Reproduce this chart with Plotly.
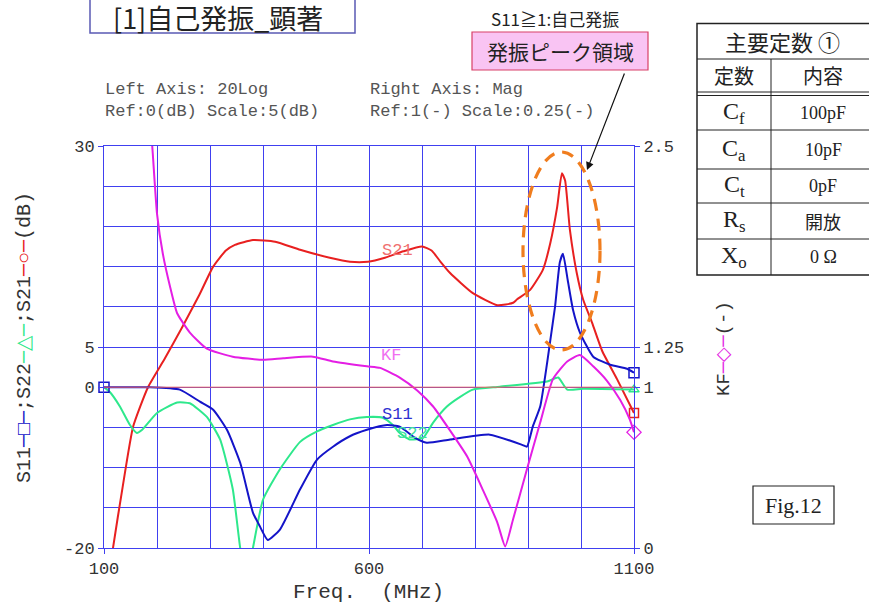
import plotly.graph_objects as go

# ---------------- data ----------------
s21_f = [110, 117, 135, 155, 183, 215, 247, 280, 306, 330, 347, 381, 423, 470, 526, 564, 598, 630, 665, 700, 718, 735, 753, 796, 842, 872, 879, 904, 928, 942, 955, 964, 970, 979, 992, 1004, 1021, 1040, 1068, 1100]
s21_db = [-24, -20, -12.5, -4.9, 0, 3.6, 7.4, 11.5, 15, 17, 17.7, 18.3, 18.1, 17.1, 16.1, 15.6, 15.6, 16.1, 16.9, 17.5, 17.0, 15.6, 14.2, 11.7, 10.2, 10.5, 10.9, 12.1, 14.6, 17.9, 22.4, 26.6, 25.7, 19.6, 14.2, 10.9, 8.0, 4.5, 1.0, -3.2]

s11_f = [100, 150, 187, 243, 281, 306, 332, 357, 381, 394, 409, 432, 470, 502, 532, 564, 596, 634, 658, 687, 709, 753, 828, 890, 898, 909, 923, 936, 942, 951, 960, 966, 975, 985, 998, 1023, 1055, 1087, 1100]
s11_db = [0, 0, 0, -0.3, -1.8, -2.8, -5.3, -9.4, -15.6, -17.3, -19, -17.7, -12.7, -9, -7.4, -6.1, -5.3, -4.7, -4.9, -6.3, -6.9, -6.5, -5.9, -7.2, -7.4, -4.9, -2.4, 3, 5.8, 10, 15.5, 16.6, 13.3, 9.6, 6.8, 3.8, 2.8, 2.3, 1.8]

s22_f = [100, 111, 130, 149, 162, 172, 200, 238, 262, 294, 319, 343, 357, 369, 381, 400, 432, 470, 502, 532, 564, 596, 626, 645, 658, 677, 702, 721, 747, 772, 796, 847, 936, 957, 974, 1004, 1100]
s22_db = [0, -0.6, -2.4, -4.7, -5.7, -5.3, -3.2, -1.9, -2, -3.7, -6.5, -12.7, -20, -24, -20, -14, -10.2, -6.8, -5.5, -4.7, -4, -3.7, -3.8, -4.7, -5.7, -6.5, -6.3, -4.4, -2.4, -1.2, -0.3, 0.06, 0.7, 1.2, -0.3, -0.2, -0.3]

kf_f = [183, 191, 200, 211, 225, 238, 262, 294, 343, 400, 438, 494, 532, 596, 621, 658, 691, 721, 753, 785, 815, 842, 857, 872, 898, 923, 947, 974, 998, 1023, 1049, 1074, 1092, 1100]
kf_v = [2.8, 2.5, 2.08, 1.83, 1.62, 1.46, 1.34, 1.24, 1.19, 1.17, 1.18, 1.19, 1.16, 1.13, 1.12, 1.06, 0.98, 0.88, 0.73, 0.57, 0.36, 0.16, 0.01, 0.18, 0.49, 0.78, 1.05, 1.16, 1.20, 1.13, 1.04, 0.92, 0.80, 0.72]

x_range = [100, 1100]
y_range = [-20, 30]
y2_range = [0, 2.5]
x_ticks = [100, 600, 1100]
y_ticks = [-20, 0, 5, 30]
y_ticktext = ["-20", "0", "5", "30"]
y2_ticks = [0, 1, 1.25, 2.5]
y2_ticktext = ["0", "1", "1.25", "2.5"]

table_rows = [("C<sub>f</sub>", "100pF"), ("C<sub>a</sub>", "10pF"), ("C<sub>t</sub>", "0pF"),
              ("R<sub>s</sub>", "開放"), ("X<sub>o</sub>", "0 Ω")]

# ---------------- layout geometry ----------------
W, H = 869, 604
L, R, T, B = 104, 634, 146, 548


def px(x):
    return (x - L) / (R - L)


def py(y):
    return (B - y) / (B - T)


RED = "#e82020"
BLUE = "#1414c8"
GREEN = "#2ee88c"
MAG = "#e41ee4"
GRID = "#4040f0"
MONO = "Liberation Mono"
SERIF = "Liberation Serif"
CJK = "Noto Sans CJK JP"

fig = go.Figure()
lw = 2
fig.add_trace(go.Scatter(x=s21_f, y=s21_db, mode="lines", line=dict(color=RED, width=lw, shape="spline", smoothing=0.5)))
fig.add_trace(go.Scatter(x=s22_f, y=s22_db, mode="lines", line=dict(color=GREEN, width=lw, shape="spline", smoothing=0.5)))
fig.add_trace(go.Scatter(x=s11_f, y=s11_db, mode="lines", line=dict(color=BLUE, width=lw, shape="spline", smoothing=0.5)))
fig.add_trace(go.Scatter(x=kf_f, y=kf_v, yaxis="y2", mode="lines", line=dict(color=MAG, width=lw, shape="spline", smoothing=0.5)))

# end markers
fig.add_trace(go.Scatter(x=[s11_f[0], s11_f[-1]], y=[s11_db[0], s11_db[-1]], mode="markers", cliponaxis=False,
                         marker=dict(symbol="square-open", size=10, color=BLUE, line=dict(width=1.5))))
fig.add_trace(go.Scatter(x=[s22_f[-1]], y=[s22_db[-1]], mode="markers", cliponaxis=False,
                         marker=dict(symbol="triangle-up-open", size=9, color=GREEN, line=dict(width=1.5))))
fig.add_trace(go.Scatter(x=[s21_f[-1]], y=[s21_db[-1]], mode="markers", cliponaxis=False,
                         marker=dict(symbol="square-open", size=9, color=RED, line=dict(width=1.5))))
fig.add_trace(go.Scatter(x=[kf_f[-1]], y=[kf_v[-1]], yaxis="y2", mode="markers", cliponaxis=False,
                         marker=dict(symbol="diamond-open", size=11, color=MAG, line=dict(width=1.2))))

tickfont = dict(family=MONO, size=17, color="#333333")
fig.update_layout(
    width=W, height=H, autosize=False,
    margin=dict(l=L, r=W - R, t=T, b=H - B, autoexpand=False),
    paper_bgcolor="white", plot_bgcolor="white", showlegend=False,
    xaxis=dict(range=x_range, tickvals=x_ticks, ticktext=[str(v) for v in x_ticks], tickfont=tickfont,
               showgrid=True, gridcolor=GRID, gridwidth=1, zeroline=False,
               showline=True, linecolor=GRID, linewidth=1, mirror=True,
               ticks="outside", ticklen=5, tickcolor=GRID,
               minor=dict(tick0=100, dtick=100, showgrid=True, gridcolor=GRID, gridwidth=1, ticks="")),
    yaxis=dict(range=y_range, tickvals=y_ticks, ticktext=y_ticktext, tickfont=tickfont,
               showgrid=True, gridcolor=GRID, gridwidth=1, zeroline=False,
               showline=True, linecolor=GRID, linewidth=1,
               ticks="outside", ticklen=5, tickcolor=GRID,
               minor=dict(tick0=0, dtick=5, showgrid=True, gridcolor=GRID, gridwidth=1, ticks="")),
    yaxis2=dict(range=y2_range, overlaying="y", side="right", tickvals=y2_ticks, ticktext=y2_ticktext,
                tickfont=tickfont, showgrid=False, zeroline=False,
                showline=True, linecolor=GRID, linewidth=1,
                ticks="outside", ticklen=5, tickcolor=GRID),
)

shapes = []
# 0 dB reference line
shapes.append(dict(type="line", xref="paper", yref="y", x0=0, x1=1, y0=0, y1=0,
                   line=dict(color="#e86060", width=1), layer="above"))
# orange dashed ellipse
shapes.append(dict(type="circle", xref="paper", yref="paper", x0=px(523), x1=px(600), y0=py(350), y1=py(152),
                   line=dict(color="#f07d1e", width=3.2, dash="12px,8px")))
# title box
shapes.append(dict(type="rect", xref="paper", yref="paper", x0=px(90), x1=px(355), y0=py(33), y1=py(-5),
                   line=dict(color="#5a5ab4", width=1.5)))
# pink box
shapes.append(dict(type="rect", xref="paper", yref="paper", x0=px(472), x1=px(648), y0=py(70), y1=py(32),
                   line=dict(color="#d84068", width=1.2), fillcolor="#f9c4f3", layer="below"))
# Fig.12 box
shapes.append(dict(type="rect", xref="paper", yref="paper", x0=px(753), x1=px(834), y0=py(524), y1=py(486),
                   line=dict(color="#222222", width=1.2)))
# table
tl, tr, tc = 697, 880, 771
shapes.append(dict(type="rect", xref="paper", yref="paper", x0=px(tl), x1=px(tr), y0=py(275), y1=py(23.5),
                   line=dict(color="#222222", width=1.5)))
for yy in [59, 92, 95.5, 130, 169, 203, 239]:
    shapes.append(dict(type="line", xref="paper", yref="paper", x0=px(tl), x1=px(tr), y0=py(yy), y1=py(yy),
                       line=dict(color="#222222", width=1)))
shapes.append(dict(type="line", xref="paper", yref="paper", x0=px(tc), x1=px(tc), y0=py(59), y1=py(275),
                   line=dict(color="#222222", width=1)))
fig.update_layout(shapes=shapes)

ann = []


def text(x, y, t, size, family, color="#222222", xanchor="center", angle=0):
    ann.append(dict(x=px(x), y=py(y), xref="paper", yref="paper", text=t, showarrow=False,
                    xanchor=xanchor, yanchor="middle", textangle=angle,
                    font=dict(size=size, family=family, color=color)))


text(218, 17, "[1]自己発振_顕著", 27, CJK, "#222222")
text(103, 90, "Left Axis: 20Log", 17, MONO, "#555555", "left")
text(103, 111, "Ref:0(dB) Scale:5(dB)", 17, MONO, "#555555", "left")
text(368, 90, "Right Axis: Mag", 17, MONO, "#555555", "left")
text(368, 111, "Ref:1(-) Scale:0.25(-)", 17, MONO, "#555555", "left")
text(555, 19, "S11≧1:自己発振", 17, CJK, "#222222")
text(560, 51, "発振ピーク領域", 21, CJK, "#222222")
text(793, 505, "Fig.12", 22, SERIF, "#222222")
text(368, 592, "Freq.  (MHz)", 21, MONO, "#333333")
# curve labels
text(397, 250, "S21", 17, MONO, "#f07070")
text(391, 355, "KF", 17, MONO, "#f070f0")
text(397, 414, "S11", 17, MONO, "#3030d0")
text(412, 433, "S22", 17, MONO, "#40e0a0")
# axis titles
left_title = ("S11<span style='color:%s'>─□─</span>;S22<span style='color:%s'>─△─</span>;"
              "S21<span style='color:%s'>─○─</span>(dB)") % (BLUE, GREEN, RED)
text(24, 338, left_title, 20, MONO, "#333333", angle=-90)
right_title = "KF<span style='color:%s'>─◇─</span>(-)" % MAG
text(724, 349, right_title, 19, MONO, "#333333", angle=-90)
# table text
text(782, 41, "主要定数 ①", 22, CJK)
text(734, 75.5, "定数", 20, CJK)
text(823, 75.5, "内容", 20, CJK)
row_centers = [112.5, 149.5, 186, 221, 257]
for (k, v), yc in zip(table_rows, row_centers):
    text(734, yc, k, 24, SERIF)
    if v == "開放":
        text(823, yc, v, 18, CJK)
    else:
        text(823, yc, v, 18, SERIF)

# arrow (tail offset in pixels)
ann.append(dict(x=px(587), y=py(170), xref="paper", yref="paper", ax=625 - 587, ay=72 - 170,
                axref="pixel", ayref="pixel", text="", showarrow=True, arrowhead=2, arrowsize=1.3,
                arrowwidth=1.2, arrowcolor="#111111"))

fig.update_layout(annotations=ann)
fig.write_html("out.html")
